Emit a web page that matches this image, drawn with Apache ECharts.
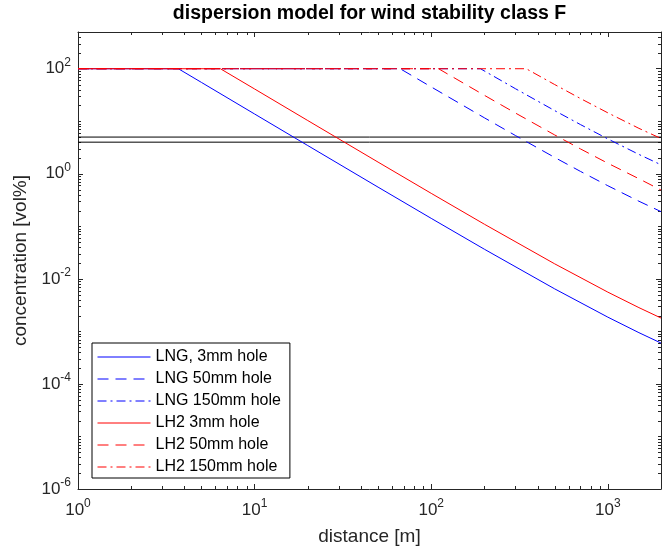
<!DOCTYPE html>
<html>
<head>
<meta charset="utf-8">
<script src="https://cdn.jsdelivr.net/npm/echarts@6/dist/echarts.min.js"></script>
<style>
html,body{margin:0;padding:0;background:#fff;}
#c{width:672px;height:551px;}
</style>
</head>
<body>
<div id="c"></div>
<script>
// ---- data ----
const titleText = 'dispersion model for wind stability class F';
const xName = 'distance [m]';
const yName = 'concentration [vol%]';
const xMin = 1, xMax = 2000;
const yMin = 1e-6, yMax = 500;
const xTickExps = [0, 1, 2, 3];
const yTickExps = [-6, -4, -2, 0, 2];

const seriesNames = ['LNG, 3mm hole', 'LNG 50mm hole', 'LNG 150mm hole', 'LH2 3mm hole', 'LH2 50mm hole', 'LH2 150mm hole'];

const lng3X = [1, 3.7, 5, 10, 20, 50, 100, 200, 500, 1000, 1500, 2000];
const lng3Y = [100, 100, 54.86, 13.74, 3.446, 0.5572, 0.1417, 0.03664, 0.006453, 0.001867, 0.000946, 0.000600];

const lng50X = [1, 66.7, 100, 200, 300, 500, 700, 1000, 1500, 2000];
const lng50Y = [100, 100, 45.0, 11.63, 5.343, 2.049, 1.110, 0.5927, 0.3004, 0.1905];

const lng150X = [1, 190, 300, 500, 700, 1000, 1500, 2000];
const lng150Y = [100, 100, 41.59, 15.95, 8.643, 4.614, 2.338, 1.483];

const lh23X = [1, 6.4, 10, 20, 50, 100, 200, 500, 1000, 1500, 2000];
const lh23Y = [100, 100, 41.14, 10.32, 1.669, 0.4244, 0.1097, 0.01933, 0.00559, 0.002834, 0.001797];

const lh250X = [1, 110, 200, 300, 500, 700, 1000, 1500, 2000];
const lh250Y = [100, 100, 31.18, 14.32, 5.491, 2.976, 1.588, 0.8051, 0.49];

const lh2150X = [1, 345, 500, 700, 1000, 1500, 2000];
const lh2150Y = [100, 100, 49.99, 27.09, 14.46, 7.329, 4.7];

const limitValues = [5, 4];

// ---- chart ----
const FONT = 'Liberation Sans, Arial, Helvetica, sans-serif';
const AX = '#262626';
const BLUE = '#0000ff', RED = '#ff0000';
const DASH = [11, 7];
const DASHDOT = [9, 4, 2, 4];

function pairs(xs, ys) { return xs.map((x, i) => [x, ys[i]]); }

const curveDefs = [
  { name: seriesNames[0], x: lng3X, y: lng3Y, color: BLUE, type: 'solid' },
  { name: seriesNames[1], x: lng50X, y: lng50Y, color: BLUE, type: DASH },
  { name: seriesNames[2], x: lng150X, y: lng150Y, color: BLUE, type: DASHDOT },
  { name: seriesNames[3], x: lh23X, y: lh23Y, color: RED, type: 'solid' },
  { name: seriesNames[4], x: lh250X, y: lh250Y, color: RED, type: DASH },
  { name: seriesNames[5], x: lh2150X, y: lh2150Y, color: RED, type: DASHDOT }
];

const series = curveDefs.map(d => ({
  name: d.name,
  type: 'line',
  data: pairs(d.x, d.y),
  symbol: 'none',
  showSymbol: false,
  silent: true,
  animation: false,
  color: d.color,
  itemStyle: { color: d.color },
  lineStyle: { color: d.color, width: 1, type: d.type }
}));
limitValues.forEach((v, i) => {
  series.push({
    name: 'limit' + i,
    type: 'line',
    data: [[xMin, v], [xMax, v]],
    symbol: 'none',
    silent: true,
    animation: false,
    lineStyle: { color: '#000', width: 1 },
    z: 1
  });
});

function supLabel(v, allowed) {
  const l = Math.log10(v);
  const e = Math.round(l);
  if (Math.abs(l - e) > 1e-6 || allowed.indexOf(e) < 0) return '';
  return '{b|10}{s|' + e + '}';
}
const rich = {
  b: { fontSize: 17, fontFamily: FONT, color: AX },
  s: { fontSize: 12, fontFamily: FONT, color: AX, padding: [0, 0, 13, 0] }
};

const axisCommon = {
  axisLine: { show: true, lineStyle: { color: AX, width: 1 } },
  axisTick: { show: true, inside: true, length: 5, lineStyle: { color: AX } },
  splitLine: { show: false },
  minorTick: { show: false }
};

const chart = echarts.init(document.getElementById('c'), null, { renderer: 'canvas' });
const option = {
  animation: false,
  backgroundColor: '#fff',
  grid: { left: 78, top: 32, right: 11, bottom: 58, containLabel: false },
  legend: {
    data: seriesNames,
    orient: 'vertical',
    left: 92,
    top: 343,
    itemWidth: 53,
    itemHeight: 16,
    itemGap: 6,
    padding: [6, 9, 3, 5],
    borderColor: '#000',
    borderWidth: 1,
    backgroundColor: '#fff',
    itemStyle: { opacity: 0 },
    lineStyle: { width: 1 },
    textStyle: { fontSize: 16, fontFamily: FONT, color: '#000', lineHeight: 16 },
    selectedMode: false
  },
  xAxis: [
    Object.assign({}, axisCommon, {
      type: 'log', logBase: 10, min: xMin, max: xMax, position: 'bottom',
      name: xName, nameLocation: 'middle', nameGap: 38,
      nameTextStyle: { fontSize: 19, fontFamily: FONT, color: AX },
      axisLabel: { formatter: v => supLabel(v, xTickExps), rich: rich, margin: 9, showMaxLabel: false }
    }),
    Object.assign({}, axisCommon, {
      type: 'log', logBase: 10, min: xMin, max: xMax, position: 'top',
      axisLabel: { show: false }
    })
  ],
  yAxis: [
    Object.assign({}, axisCommon, {
      type: 'log', logBase: 100, min: yMin, max: yMax, position: 'left',
      name: yName, nameLocation: 'middle', nameGap: 47, nameRotate: 90,
      nameTextStyle: { fontSize: 19, fontFamily: FONT, color: AX },
      axisLabel: { formatter: v => supLabel(v, yTickExps), rich: rich, margin: 7, showMaxLabel: false }
    }),
    Object.assign({}, axisCommon, {
      type: 'log', logBase: 100, min: yMin, max: yMax, position: 'right',
      axisLabel: { show: false }
    })
  ],
  series: series
};
chart.setOption(option);

// minor ticks (2..9 within each decade) and title, positioned through the axes
const gfx = [];
const yB = chart.convertToPixel({ yAxisIndex: 0 }, yMin);
const yT = chart.convertToPixel({ yAxisIndex: 0 }, yMax);
const xL = chart.convertToPixel({ xAxisIndex: 0 }, xMin);
const xR = chart.convertToPixel({ xAxisIndex: 0 }, xMax);
const ML = 3;
for (let k = 0; k <= 3; k++) {
  for (let m = 2; m <= 9; m++) {
    const v = m * Math.pow(10, k);
    if (v >= xMax) continue;
    const px = Math.round(chart.convertToPixel({ xAxisIndex: 0 }, v)) + 0.5;
    gfx.push({ type: 'line', silent: true, shape: { x1: px, y1: yB, x2: px, y2: yB - ML }, style: { stroke: AX, lineWidth: 1 } });
    gfx.push({ type: 'line', silent: true, shape: { x1: px, y1: yT, x2: px, y2: yT + ML }, style: { stroke: AX, lineWidth: 1 } });
  }
}
for (let k = -6; k <= 2; k++) {
  for (let m = 1; m <= 9; m++) {
    const v = m * Math.pow(10, k);
    if (v >= yMax) continue;
    if (m === 1 && k % 2 === 0) continue;
    const py = Math.round(chart.convertToPixel({ yAxisIndex: 0 }, v)) + 0.5;
    gfx.push({ type: 'line', silent: true, shape: { x1: xL, y1: py, x2: xL + ML, y2: py }, style: { stroke: AX, lineWidth: 1 } });
    gfx.push({ type: 'line', silent: true, shape: { x1: xR, y1: py, x2: xR - ML, y2: py }, style: { stroke: AX, lineWidth: 1 } });
  }
}
gfx.push({
  type: 'text', silent: true, x: (xL + xR) / 2, y: 14,
  style: { text: titleText, font: 'bold 19.5px ' + FONT, fill: '#000', textAlign: 'center', textVerticalAlign: 'middle' }
});
chart.setOption({ graphic: gfx });
</script>
</body>
</html>
